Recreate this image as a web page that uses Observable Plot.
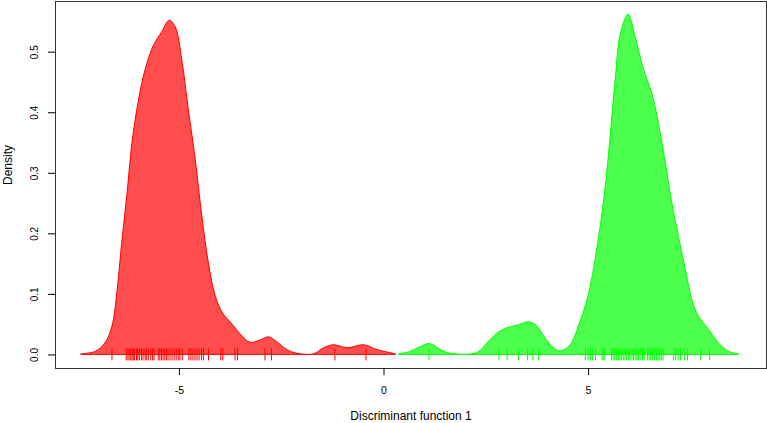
<!DOCTYPE html>
<html>
<head>
<meta charset="utf-8">
<script src="https://cdn.jsdelivr.net/npm/d3@7"></script>
<script src="https://cdn.jsdelivr.net/npm/@observablehq/plot@0.6"></script>
<style>
  html, body { margin: 0; padding: 0; background: #fff; }
  #chart svg { display: block; }
</style>
</head>
<body>
<div id="chart"></div>
<script>
// Density curve of group 1 (red)
const redX = [-7.39, -7.05, -6.81, -6.64, -6.52, -6.40, -6.27, -6.15, -5.99, -5.83, -5.62, -5.42, -5.24, -5.09, -4.93, -4.77, -4.60, -4.44, -4.28, -4.11, -3.93, -3.70, -3.45, -3.26, -3.01, -2.81, -2.61, -2.36, -2.12, -1.71, -1.47, -1.22, -0.89, -0.49, -0.16, 0.29];
const redY = [0.001, 0.005, 0.019, 0.046, 0.101, 0.184, 0.266, 0.349, 0.420, 0.470, 0.511, 0.533, 0.552, 0.541, 0.486, 0.404, 0.321, 0.228, 0.151, 0.096, 0.068, 0.050, 0.030, 0.020, 0.024, 0.029, 0.021, 0.008, 0.002, 0.001, 0.011, 0.016, 0.011, 0.016, 0.008, 0.001];

// Density curve of group 2 (green)
const greenX = [0.37, 0.65, 0.90, 1.12, 1.39, 1.63, 2.28, 2.53, 2.77, 3.02, 3.30, 3.55, 3.75, 3.95, 4.16, 4.30, 4.54, 4.78, 5.01, 5.26, 5.42, 5.54, 5.67, 5.79, 5.98, 6.15, 6.36, 6.56, 6.72, 6.89, 7.05, 7.21, 7.38, 7.54, 7.70, 7.95, 8.19, 8.44, 8.68];
const greenY = [0.001, 0.005, 0.013, 0.018, 0.008, 0.002, 0.003, 0.019, 0.035, 0.044, 0.049, 0.054, 0.047, 0.027, 0.011, 0.006, 0.014, 0.050, 0.100, 0.195, 0.277, 0.360, 0.459, 0.530, 0.562, 0.525, 0.470, 0.431, 0.382, 0.316, 0.250, 0.195, 0.140, 0.090, 0.063, 0.041, 0.019, 0.005, 0.001];

// Rug: individual discriminant scores
const redRug = [-6.65, -6.30, -6.26, -6.23, -6.19, -6.16, -6.13, -6.10, -6.05, -6.02, -5.98, -5.93, -5.89, -5.84, -5.81, -5.76, -5.70, -5.66, -5.62, -5.52, -5.48, -5.44, -5.40, -5.36, -5.32, -5.28, -5.23, -5.18, -5.13, -5.08, -5.03, -4.99, -4.93, -4.77, -4.72, -4.67, -4.62, -4.57, -4.52, -4.46, -4.41, -4.29, -3.99, -3.94, -3.64, -3.58, -2.91, -2.75, -1.20, -0.44];
const greenRug = [1.10, 2.81, 3.01, 3.29, 3.51, 3.64, 3.78, 4.92, 4.99, 5.05, 5.10, 5.17, 5.33, 5.36, 5.40, 5.56, 5.60, 5.64, 5.68, 5.73, 5.77, 5.81, 5.85, 5.89, 5.93, 5.98, 6.01, 6.06, 6.10, 6.14, 6.18, 6.22, 6.28, 6.32, 6.36, 6.44, 6.48, 6.52, 6.56, 6.61, 6.66, 6.70, 6.74, 6.78, 6.82, 7.08, 7.13, 7.19, 7.25, 7.35, 7.42, 7.74, 7.96];

const xTicks = [-5, 0, 5];
const yTicks = [0, 0.1, 0.2, 0.3, 0.4, 0.5];
const xTitle = "Discriminant function 1";
const yTitle = "Density";

const red = redX.map((x, i) => ({x, y: redY[i]}));
const green = greenX.map((x, i) => ({x, y: greenY[i]}));

const chart = Plot.plot({
  width: 767,
  height: 423,
  marginLeft: 55,
  marginRight: 1,
  marginTop: 1,
  marginBottom: 55,
  style: {fontFamily: "'Liberation Sans', Arial, Helvetica, sans-serif", fontSize: "10px", background: "#fff"},
  x: {domain: [-8.03, 9.35]},
  y: {domain: [-0.0224, 0.5837]},
  marks: [
    Plot.areaY(red, {x: "x", y: "y", curve: "catmull-rom", fill: "#ff0000", fillOpacity: 0.7, stroke: "#ff0000", strokeWidth: 1}),
    Plot.areaY(green, {x: "x", y: "y", curve: "catmull-rom", fill: "#00ff00", fillOpacity: 0.7, stroke: "#00ff00", strokeWidth: 1}),
    Plot.ruleX(redRug, {x: d => d, y1: 0, y2: 0, insetTop: -6, insetBottom: -6, stroke: "#ff0000", strokeWidth: 1}),
    Plot.ruleX(greenRug, {x: d => d, y1: 0, y2: 0, insetTop: -6, insetBottom: -6, stroke: "#00ff00", strokeWidth: 1}),
    Plot.frame({stroke: "#333"}),
    Plot.axisX({ticks: xTicks, tickSize: 7, tickPadding: 11, tickFormat: d => String(d), label: null, fontSize: 10.5}),
    Plot.axisY({ticks: yTicks, tickSize: 7, tickPadding: 11, tickRotate: -90, tickFormat: d3.format(".1f"), label: null, fontSize: 10}),
    Plot.text([xTitle], {frameAnchor: "bottom", dy: 51, lineAnchor: "bottom", text: d => d, fontSize: 12, fill: "#000"}),
    Plot.text([yTitle], {frameAnchor: "left", dx: -44, rotate: -90, lineAnchor: "bottom", text: d => d, fontSize: 12, fill: "#000"})
  ]
});
document.getElementById("chart").appendChild(chart);
</script>
</body>
</html>
